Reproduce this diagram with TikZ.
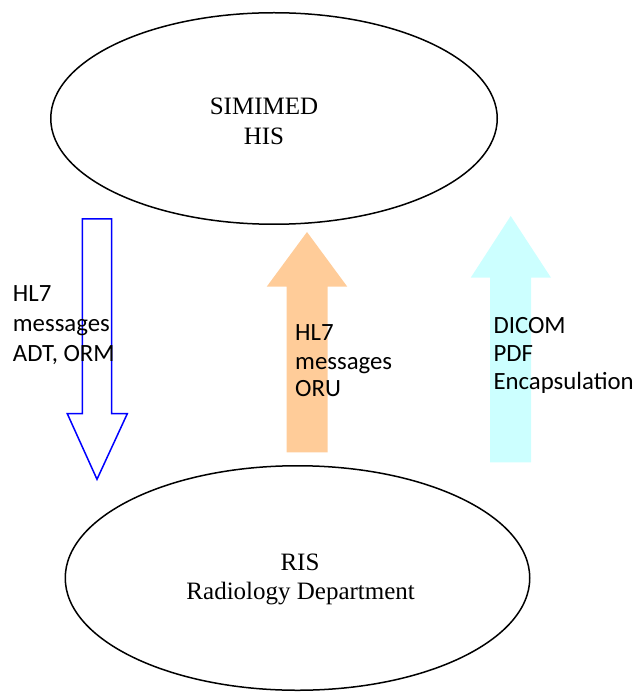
\documentclass[tikz,border=0pt]{standalone}
\usepackage{fontspec}
\setmainfont{Liberation Serif}
\newfontfamily\calib{Carlito}
\usetikzlibrary{shapes.geometric}
\definecolor{peach}{HTML}{FFCC99}
\definecolor{lightcyan}{HTML}{CCFFFF}
\begin{document}
\begin{tikzpicture}[x=1pt,y=-1pt,
  oval/.style={draw=black, line width=1.5pt, ellipse, inner sep=0pt},
  serif/.style={font=\fontsize{25}{30}\selectfont, inner sep=0pt, anchor=base},
  lbl/.style={font=\calib\fontsize{24.8}{29.5}\selectfont, inner sep=0pt, anchor=base west},
  outlinearrow/.style={draw=blue, line width=1.5pt, line join=miter},
  fillarrow/.style={draw=none}
  ]
\useasboundingbox (0,0) rectangle (636,692);
% ellipses
\node[oval, minimum width=446.5pt, minimum height=211.5pt] (his) at (274,118.5) {};
\node[oval, minimum width=464.5pt, minimum height=224.5pt] (ris) at (297.5,578) {};
% block arrows
\draw[outlinearrow] (82.3,219) -- (111.7,219) -- (111.7,413.7) -- (127.3,413.7)
  -- (97,479.3) -- (67.3,413.7) -- (82.3,413.7) -- cycle;
\fill[peach, fillarrow] (286.7,452.3) -- (286.7,286.7) -- (266.7,286.7) -- (307,232)
  -- (347.3,286.7) -- (327.7,286.7) -- (327.7,452.3) -- cycle;
\fill[lightcyan, fillarrow] (490,462.3) -- (490,277.7) -- (470.7,277.7) -- (510.7,216)
  -- (551,277.7) -- (531,277.7) -- (531,462.3) -- cycle;
% ellipse texts
\node[serif] (his1) at (264,115) {SIMIMED};
\node[serif] (his2) at (264,145) {HIS};
\node[serif] (ris1) at (300,570) {RIS};
\node[serif] (ris2) at (300.7,599.3) {Radiology Department};
% labels
\node[lbl] (l1) at (12.7,301.7) {HL7};
\node[lbl] (l2) at (12.7,331.5) {messages};
\node[lbl] (l3) at (12.7,361.7) {ADT, ORM};
\node[lbl] (m1) at (295,340.7) {HL7};
\node[lbl] (m2) at (295,369) {messages};
\node[lbl] (m3) at (295,396.7) {ORU};
\node[lbl] (r1) at (493.3,333.3) {DICOM};
\node[lbl] (r2) at (493.3,361.7) {PDF};
\node[lbl] (r3) at (493.3,389.3) {Encapsulation};
\end{tikzpicture}
\end{document}
